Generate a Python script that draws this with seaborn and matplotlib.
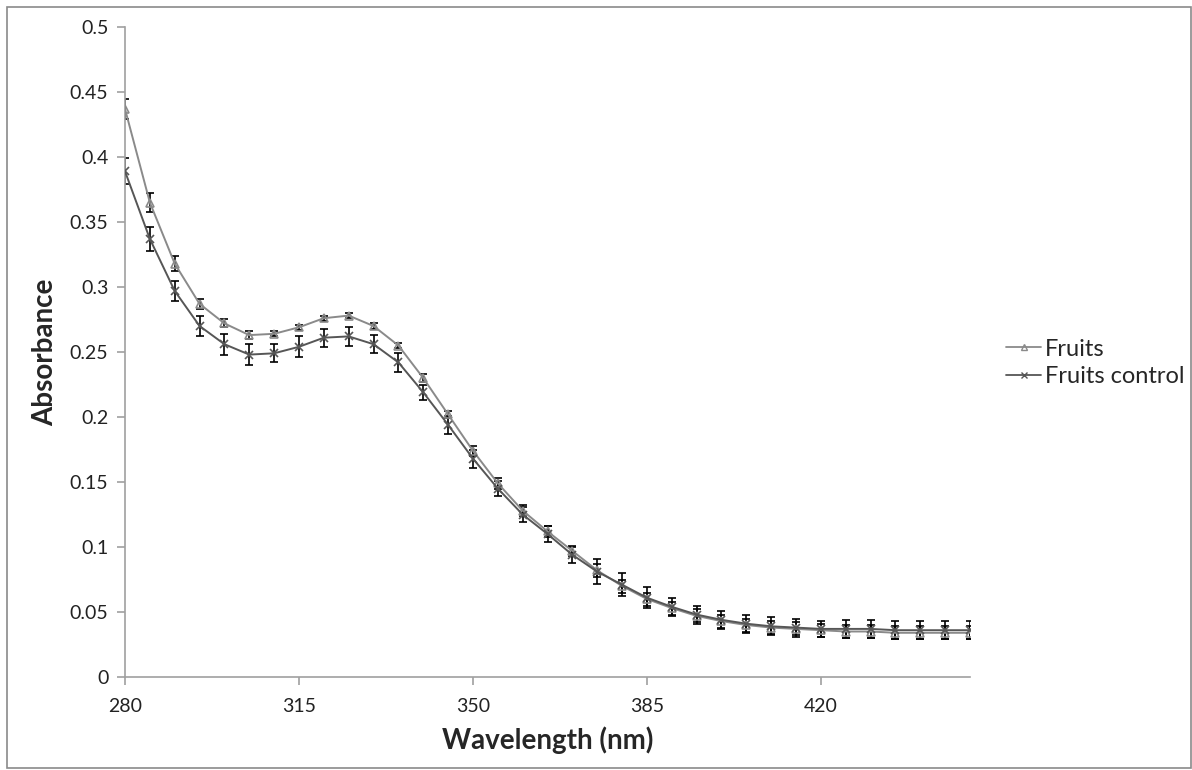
import numpy as np
import pandas as pd
import matplotlib
matplotlib.use("Agg")
import matplotlib.pyplot as plt
import seaborn as sns
from matplotlib.lines import Line2D

# Wavelength grid and absorbance readings
wavelength = list(range(280, 455, 5))

fruits = [0.437, 0.365, 0.318, 0.287, 0.272, 0.263, 0.264, 0.269, 0.276, 0.278,
          0.270, 0.255, 0.230, 0.202, 0.174, 0.149, 0.128, 0.112, 0.097, 0.082,
          0.070, 0.060, 0.053, 0.047, 0.043, 0.040, 0.038, 0.037, 0.036, 0.035,
          0.035, 0.034, 0.034, 0.034, 0.034]
fruits_err = [0.008, 0.007, 0.006, 0.004, 0.003, 0.003, 0.002, 0.002, 0.002, 0.002,
              0.002, 0.002, 0.003, 0.003, 0.004, 0.004, 0.004, 0.004, 0.004, 0.005,
              0.005, 0.005, 0.005, 0.005, 0.005, 0.005, 0.005, 0.005, 0.005, 0.005,
              0.005, 0.005, 0.005, 0.005, 0.005]

control = [0.389, 0.337, 0.297, 0.270, 0.256, 0.248, 0.249, 0.254, 0.261, 0.262,
           0.256, 0.242, 0.219, 0.194, 0.168, 0.145, 0.125, 0.110, 0.094, 0.081,
           0.071, 0.061, 0.054, 0.048, 0.044, 0.041, 0.039, 0.038, 0.037, 0.037,
           0.037, 0.036, 0.036, 0.036, 0.036]
control_err = [0.010, 0.009, 0.008, 0.008, 0.008, 0.008, 0.007, 0.008, 0.007, 0.007,
               0.007, 0.007, 0.006, 0.007, 0.007, 0.006, 0.006, 0.006, 0.006, 0.0095,
               0.009, 0.008, 0.007, 0.007, 0.007, 0.007, 0.007, 0.007, 0.006, 0.007,
               0.007, 0.007, 0.007, 0.007, 0.007]

xticks = [280, 315, 350, 385, 420]
yticks = [0, 0.05, 0.1, 0.15, 0.2, 0.25, 0.3, 0.35, 0.4, 0.45, 0.5]

sns.set_style("white")
plt.rcParams["font.family"] = ["Lato", "DejaVu Sans"]
plt.rcParams["xtick.major.size"] = 6
plt.rcParams["ytick.major.size"] = 6

fig = plt.figure(figsize=(11.92, 7.7), dpi=100)
ax = fig.add_axes([125 / 1192, 1 - 677 / 770, 845 / 1192, 650 / 770])

# error bars first so markers sit on top
ax.errorbar(wavelength, fruits, yerr=fruits_err, fmt="none", ecolor="black",
            elinewidth=1.2, capsize=3, capthick=1.2, zorder=2)
ax.errorbar(wavelength, control, yerr=control_err, fmt="none", ecolor="black",
            elinewidth=1.2, capsize=3, capthick=1.2, zorder=2)

c_fruits = "#8a8a8a"
c_control = "#565656"
sns.lineplot(x=wavelength, y=fruits, color=c_fruits, marker="^", markersize=6,
             markerfacecolor="none", markeredgecolor=c_fruits, markeredgewidth=1.2,
             linewidth=1.4, ax=ax, zorder=3)
sns.lineplot(x=wavelength, y=control, color=c_control, marker="x", markersize=6,
             markeredgecolor=c_control, markeredgewidth=1.2,
             linewidth=1.4, ax=ax, zorder=3)

ax.set_xlim(280, 450)
ax.set_ylim(0, 0.5)
ax.set_xticks(xticks)
ax.set_yticks(yticks)
ax.set_yticklabels([f"{t:g}" for t in yticks])
ax.tick_params(axis="both", direction="out", length=6, width=1.2, color="#a0a0a0",
               labelsize=14, pad=6, labelcolor="#222222", bottom=True, left=True)
ax.tick_params(axis="x", pad=9)
for side in ["top", "right"]:
    ax.spines[side].set_visible(False)
for side in ["left", "bottom"]:
    ax.spines[side].set_color("#a0a0a0")
    ax.spines[side].set_linewidth(1.2)

ax.set_xlabel("Wavelength (nm)", fontsize=20, fontweight="bold", labelpad=8)
ax.set_ylabel("Absorbance", fontsize=20, fontweight="bold", labelpad=8)

# legend on the right, outside the plot
handles = [
    Line2D([], [], color=c_fruits, marker="^", markerfacecolor="none",
           markersize=5, linewidth=1.3),
    Line2D([], [], color=c_control, marker="x", markersize=5, linewidth=1.3),
]
fig.legend(handles, ["Fruits", "Fruits control"], loc="center left",
           bbox_to_anchor=(1006 / 1192, 1 - 363 / 770), frameon=False,
           fontsize=17, handlelength=1.5, handletextpad=0.15, labelspacing=0.28,
           borderaxespad=0, borderpad=0)

# outer chart border
fig.patches.append(plt.Rectangle((7 / 1192, 0.002), 1 - 8 / 1192, 1 - 9 / 770,
                                 transform=fig.transFigure, fill=False,
                                 edgecolor="#8a8a8a", linewidth=1.2))

fig.savefig("out.png", dpi=100)
